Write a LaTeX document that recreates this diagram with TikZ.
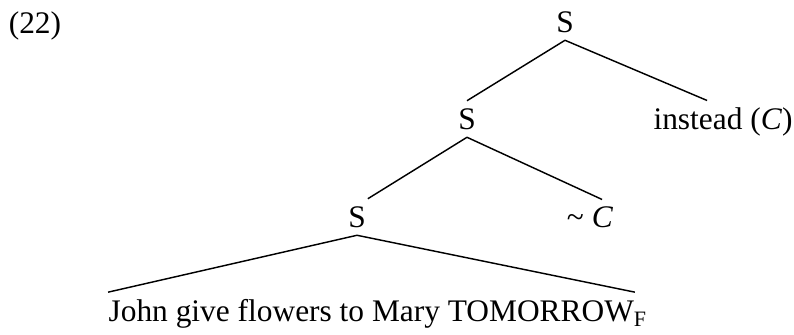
\documentclass[tikz,border=0pt]{standalone}
\usepackage{fontspec}
\setmainfont{Liberation Serif}
\usetikzlibrary{positioning}
\tikzset {
  every node/.style={font=\fontsize{13}{15}\selectfont},
  tnode/.style={inner sep=3pt},
  branch/.style={line width=0.6pt},
}

\begin{document}
\begin{tikzpicture}[x=0.414pt,y=-0.414pt]
  \useasboundingbox (0,0) rectangle (794,335);

  \node (ex) at (35,26) {(22)};

  \node[tnode] (top) at (565,22) {S};
  \node[tnode] (mid) at (467,119) {S};
  \node[tnode,anchor=base] (inst) at (723,130) {instead (\textit{C})};
  \node[tnode] (low) at (357,217) {S};
  \node[tnode,anchor=base] (negc) at (590,228) {\textasciitilde{} \textit{C}};
  \node[tnode,inner xsep=0pt,anchor=base] (sent) at (378,322)
    {John give flowers to Mary TOMORROW\textsubscript{F}};

  \draw[branch] (top.south) -- (mid.north);
  \draw[branch] (top.south) -- ([xshift=-6.6pt]inst.north);
  \draw[branch] (mid.south) -- ([xshift=4.5pt]low.north);
  \draw[branch] (mid.south) -- ([xshift=5pt]negc.north);
  \draw[branch] (low.south) -- (sent.north west);
  \draw[branch] (low.south) -- ([xshift=-5.4pt]sent.north east);
\end{tikzpicture}
\end{document}
